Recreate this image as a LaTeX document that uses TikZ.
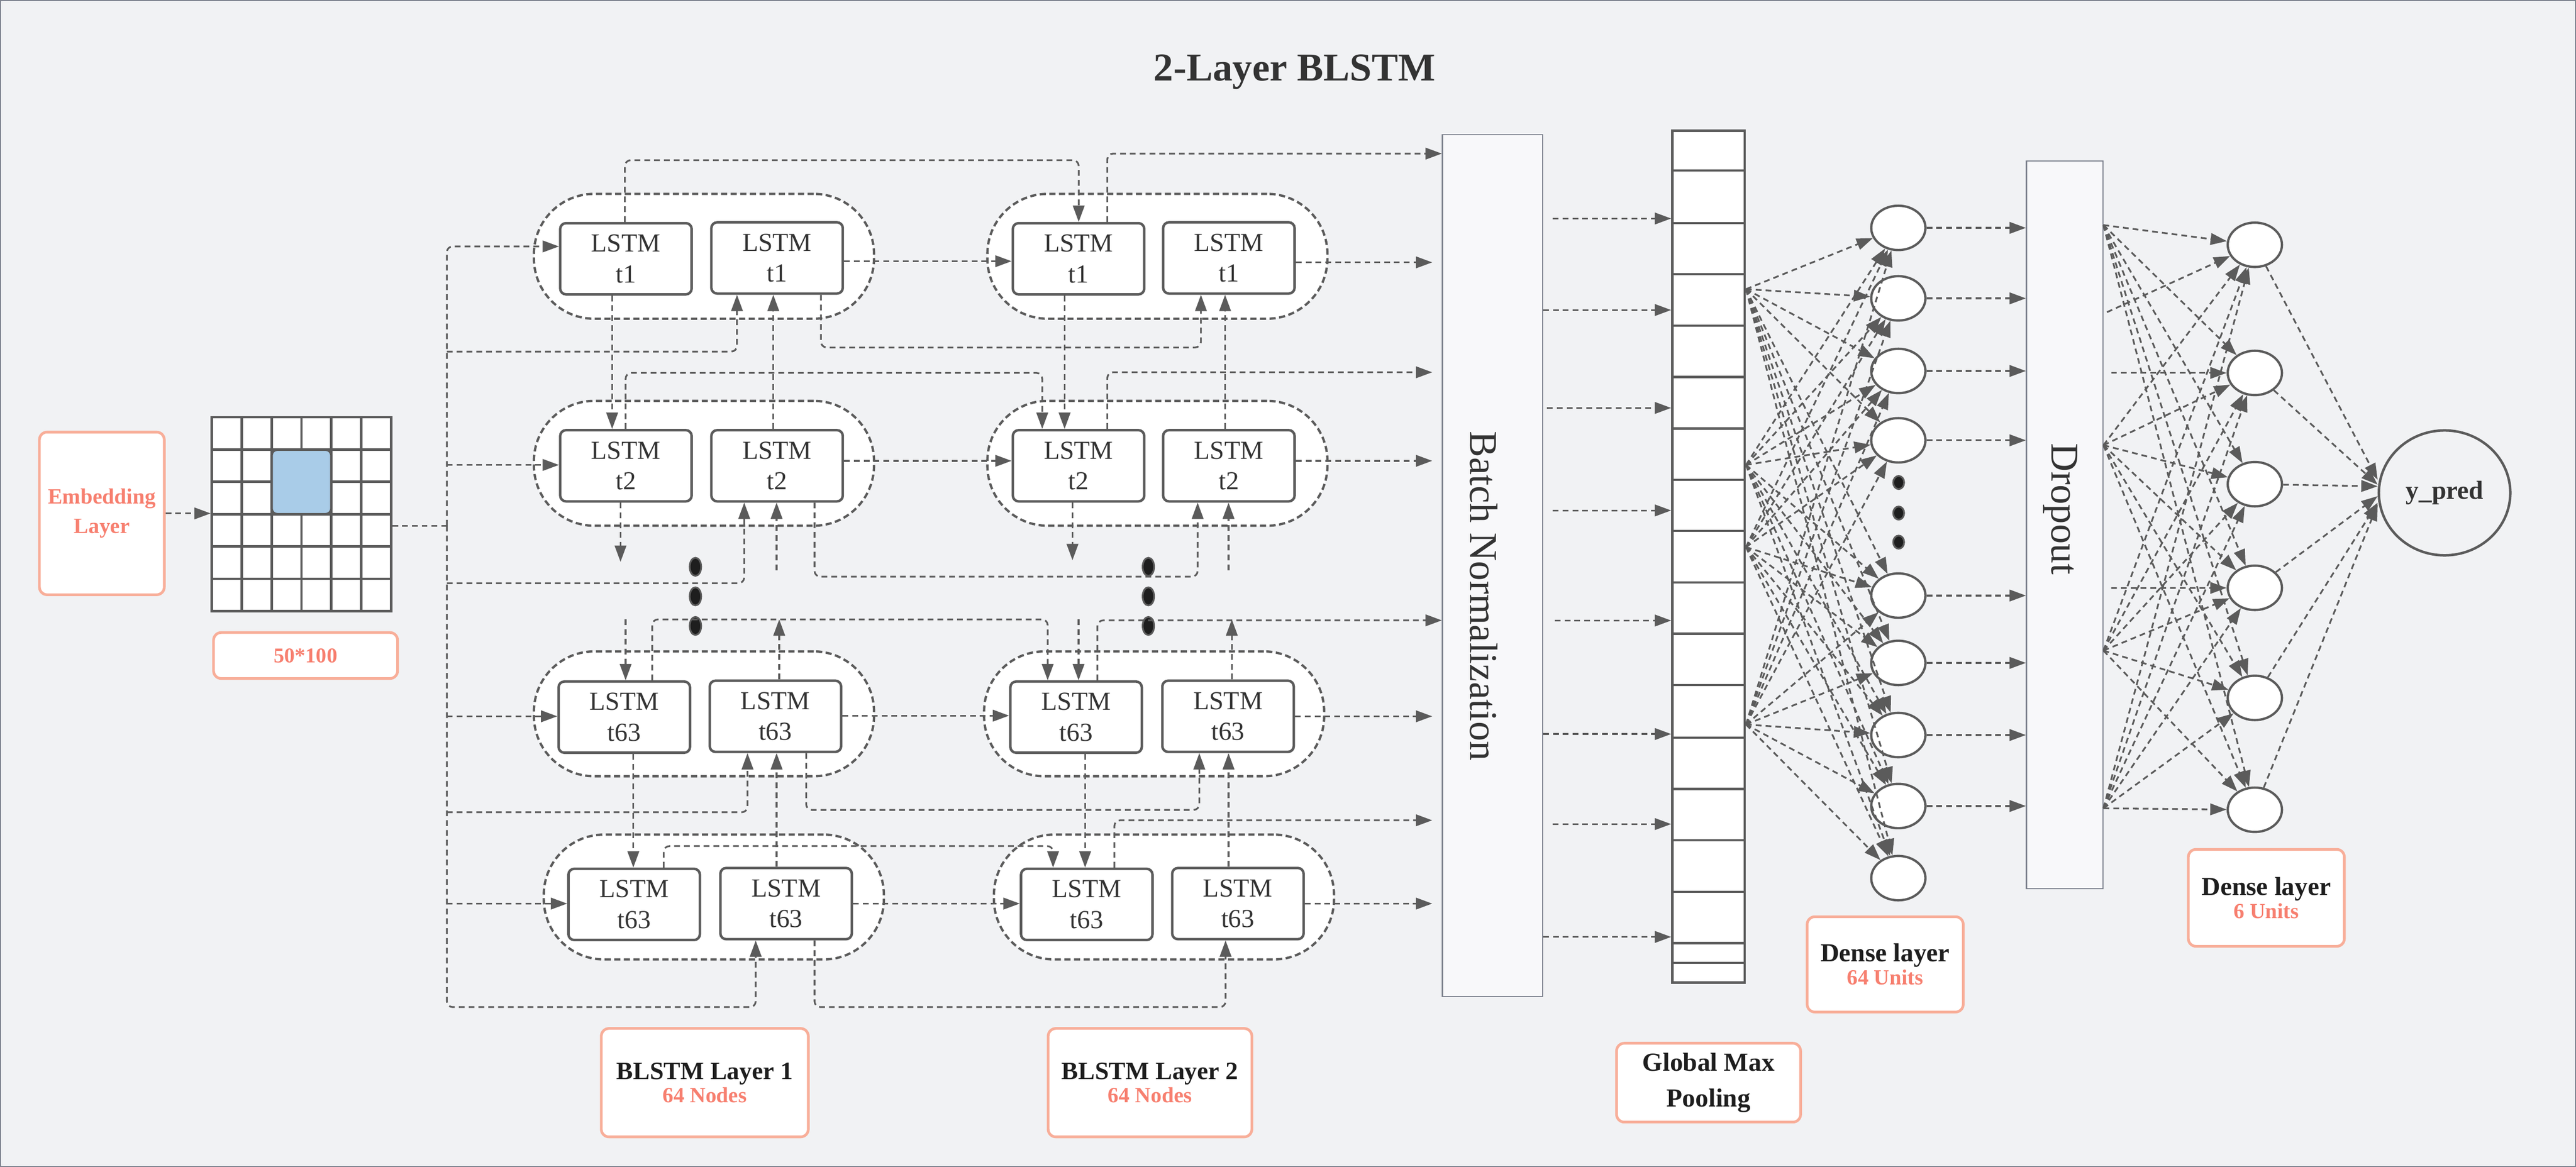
\documentclass[tikz,border=0pt]{standalone}
\usepackage{fontspec}
\setmainfont{Liberation Serif}
\usetikzlibrary{arrows.meta,shapes.geometric,calc}
\definecolor{bgc}{HTML}{F1F2F4}
\definecolor{lnc}{HTML}{5B5B5B}
\definecolor{salb}{HTML}{F8AE99}
\definecolor{salt}{HTML}{F77F6F}
\definecolor{txc}{HTML}{333333}
\definecolor{blk}{HTML}{1E1E1E}
\definecolor{bluc}{HTML}{A9CCE8}
\definecolor{frc}{HTML}{7D828E}
\begin{document}
\begin{tikzpicture}[x=0.03cm,y=-0.03cm,
 conn/.style={draw=lnc,line width=0.9pt,dash pattern=on 3pt off 2.1pt,rounded corners=3pt},
 arr/.style={conn,-{Triangle[length=8.5pt,width=6pt]}},
 lstm/.style={draw=lnc,fill=white,line width=1.3pt,rounded corners=3pt,minimum width=2.4cm,minimum height=1.3cm,inner sep=0pt,align=center,text=txc,font=\fontsize{13.5}{16}\selectfont},
 pill/.style={draw=lnc,fill=white,line width=1.2pt,dash pattern=on 3.2pt off 1.8pt,rounded corners=1.1cm,minimum width=6.21cm,minimum height=2.28cm,inner sep=0pt},
 salbox/.style={draw=salb,fill=white,line width=1.4pt,rounded corners=4pt,inner sep=0pt,align=center},
 neuron/.style={ellipse,draw=lnc,fill=white,line width=1.2pt,minimum width=0.99cm,minimum height=0.81cm,inner sep=0pt},
 dotn/.style={ellipse,draw=lnc,fill=blk,line width=0.9pt,inner sep=0pt},
 tallbox/.style={draw=frc,fill=bgc!50!white,line width=0.6pt,inner sep=0pt},
]
\fill[bgc] (0,0) rectangle (1568,710.3);
\draw[frc,line width=0.5pt] (0.3,0.3) rectangle (1567.7,710);
\useasboundingbox (0,0) rectangle (1568,710.3);

% title
\node[anchor=base,font=\bfseries\fontsize{20.5}{24}\selectfont,text=txc] (title) at (788,49) {2-Layer BLSTM};

% embedding
\node[salbox,minimum width=2.28cm,minimum height=2.97cm,text=salt,font=\bfseries\fontsize{11.3}{15.4}\selectfont] (emb) at (62,312.5) {Embedding\\Layer};
\node[draw=lnc,fill=white,line width=1.3pt,minimum width=3.27cm,minimum height=3.54cm,inner sep=0pt] (grid) at (183.5,313) {};
\foreach \gx in {147.2,165.3,183.5,201.7,219.8} \draw[lnc,line width=1.3pt] (grid.north -| \gx,0) -- (grid.south -| \gx,0);
\foreach \gy in {273.7,293.3,313,332.7,352.3} \draw[lnc,line width=1.3pt] (grid.west |- 0,\gy) -- (grid.east |- 0,\gy);
\node[draw=lnc,fill=bluc,line width=1.3pt,rounded corners=3pt,minimum width=1.092cm,minimum height=1.18cm,inner sep=0pt] (hl) at (183.5,293.35) {};
\node[salbox,minimum width=3.36cm,minimum height=0.84cm,text=salt,font=\bfseries\fontsize{11}{13}\selectfont] (dim) at (186,399) {50*100};
\draw[arr] (emb.east) -- (grid.west |- emb.east);

% pills
\node[pill] (P1) at (428.5,156) {};
\node[pill] (P2) at (428.5,282) {};
\node[pill] (P3) at (428.5,434.5) {};
\node[pill] (P4) at (434.5,546) {};
\node[pill] (Q1) at (704.5,156) {};
\node[pill] (Q2) at (704.5,282) {};
\node[pill] (Q3) at (702.5,434.5) {};
\node[pill] (Q4) at (708.5,546) {};

% LSTM boxes
\node[lstm] (A1L) at (381,157.5) {LSTM\\t1};
\node[lstm] (A1R) at (473,157) {LSTM\\t1};
\node[lstm] (A2L) at (381,283.5) {LSTM\\t2};
\node[lstm] (A2R) at (473,283.5) {LSTM\\t2};
\node[lstm] (A3L) at (380,436.5) {LSTM\\t63};
\node[lstm] (A3R) at (472,436) {LSTM\\t63};
\node[lstm] (A4L) at (386,550.5) {LSTM\\t63};
\node[lstm] (A4R) at (478.5,550) {LSTM\\t63};
\node[lstm] (B1L) at (656.5,157.5) {LSTM\\t1};
\node[lstm] (B1R) at (748,157) {LSTM\\t1};
\node[lstm] (B2L) at (656.5,283.5) {LSTM\\t2};
\node[lstm] (B2R) at (748,283.5) {LSTM\\t2};
\node[lstm] (B3L) at (655,436.5) {LSTM\\t63};
\node[lstm] (B3R) at (747.5,436) {LSTM\\t63};
\node[lstm] (B4L) at (661.5,550.5) {LSTM\\t63};
\node[lstm] (B4R) at (753.5,550) {LSTM\\t63};

% dots
\foreach \i/\yy in {1/345,2/363,3/381} {
  \node[dotn,minimum width=0.21cm,minimum height=0.33cm] (dl\i) at (423.3,\yy) {};
  \node[dotn,minimum width=0.21cm,minimum height=0.33cm] (dr\i) at (699,\yy) {};
}

% layer 1 bus
\coordinate (bus) at (272,320);
\draw[conn] (grid.east |- bus) -- (bus);
\draw[arr] (bus) |- (A1L.west |- 0,150);
\draw[arr] (bus) |- (460,613) -- (A4R.south -| 460,0);
\draw[arr] (bus |- 0,283) -- (A2L.west |- 0,283);
\draw[arr] (bus |- 0,436) -- (A3L.west |- 0,436);
\draw[arr] (bus |- 0,550) -- (A4L.west |- 0,550);
\draw[arr] (bus |- 0,214) -| (A1R.south -| 448.6,0);
\draw[arr] (bus |- 0,355) -| (A2R.south -| 453,0);
\draw[arr] (bus |- 0,494.4) -| (A3R.south -| 455,0);

% layer 1 internal
\draw[arr] (A1L.south -| 372.6,0) -- (A2L.north -| 372.6,0);
\coordinate (A2Lx) at (377.7,342);
\draw[arr] (A2L.south -| 377.7,0) -- (A2Lx);
\coordinate (A3Lx) at (380.8,377);
\draw[arr] (A3Lx) -- (A3L.north -| 380.8,0);
\draw[arr] (A3L.south -| 385.5,0) -- (A4L.north -| 385.5,0);
\draw[arr] (A2R.north -| 470.7,0) -- (A1R.south -| 470.7,0);
\coordinate (A2Rx) at (472.7,347);
\draw[arr] (A2Rx) -- (A2R.south -| 472.7,0);
\coordinate (A3Rx) at (474.3,377);
\draw[arr] (A3R.north -| 474.3,0) -- (A3Rx);
\draw[arr] (A4R.north -| 472.7,0) -- (A3R.south -| 472.7,0);

% layer 1 -> layer 2
\draw[arr] (A1R.east |- 0,159) -- (B1L.west |- 0,159);
\draw[arr] (A1L.north -| 380.4,0) |- (656.6,97.5) -- (B1L.north -| 656.6,0);
\draw[arr] (A1R.south -| 499.7,0) |- (731,211.5) -- (B1R.south -| 731,0);
\draw[arr] (A2L.north -| 380.8,0) |- (634.4,227) -- (B2L.north -| 634.4,0);
\draw[arr] (A2R.east |- 0,280.5) -- (B2L.west |- 0,280.5);
\draw[arr] (A2R.south -| 495.8,0) |- (729,351) -- (B2R.south -| 729,0);
\draw[arr] (A3L.north -| 397,0) |- (637.7,377) -- (B3L.north -| 637.7,0);
\draw[arr] (A3R.east |- 0,435.6) -- (B3L.west |- 0,435.6);
\draw[arr] (A3R.south -| 490.7,0) |- (730,493) -- (B3R.south -| 730,0);
\draw[arr] (A4L.north -| 404,0) |- (641,515) -- (B4L.north -| 641,0);
\draw[arr] (A4R.east |- 0,550) -- (B4L.west |- 0,550);
\draw[arr] (A4R.south -| 495.8,0) |- (746,613) -- (B4R.south -| 746,0);

% layer 2 internal
\draw[arr] (B1L.south -| 648,0) -- (B2L.north -| 648,0);
\coordinate (B2Lx) at (652.8,341);
\draw[arr] (B2L.south -| 652.8,0) -- (B2Lx);
\coordinate (B3Lx) at (656.5,377);
\draw[arr] (B3Lx) -- (B3L.north -| 656.5,0);
\draw[arr] (B3L.south -| 660.5,0) -- (B4L.north -| 660.5,0);
\draw[arr] (B2R.north -| 745.7,0) -- (B1R.south -| 745.7,0);
\coordinate (B2Rx) at (747.8,347);
\draw[arr] (B2Rx) -- (B2R.south -| 747.8,0);
\coordinate (B3Rx) at (749.8,377);
\draw[arr] (B3R.north -| 749.8,0) -- (B3Rx);
\draw[arr] (B4R.north -| 747.8,0) -- (B3R.south -| 747.8,0);

% batch normalization
\node[tallbox,minimum width=1.83cm,minimum height=15.735cm] (BN) at (908.5,344.25) {};
\node[rotate=-90,anchor=base,font=\fontsize{20.5}{24}\selectfont,text=txc] (BNt) at (895,362.7) {Batch Normalization};

% layer 2 -> BN
\draw[arr] (B1L.north -| 674,0) |- (BN.west |- 0,93.5);
\draw[arr,shorten >=5pt] (B1R.east |- 0,159.7) -- (BN.west |- 0,159.7);
\draw[arr,shorten >=5pt] (B2L.north -| 674,0) |- (BN.west |- 0,226.6);
\draw[arr,shorten >=5pt] (B2R.east |- 0,280.5) -- (BN.west |- 0,280.5);
\draw[arr] (B3L.north -| 668,0) |- (BN.west |- 0,377.6);
\draw[arr,shorten >=5pt] (B3R.east |- 0,436) -- (BN.west |- 0,436);
\draw[arr,shorten >=5pt] (B4L.north -| 678.3,0) |- (BN.west |- 0,499.3);
\draw[arr,shorten >=5pt] (B4R.east |- 0,550) -- (BN.west |- 0,550);

% global max pooling column
\node[draw=lnc,fill=white,line width=1.3pt,minimum width=1.32cm,minimum height=15.555cm,inner sep=0pt] (GMP) at (1040,338.75) {};
\foreach \gy in {103.8,135.8,166.9,198.3,229.5,260.8,292,323.2,354.5,385.8,417,449,480.2,511.5,542.8,574,586}
  \draw[lnc,line width=1.2pt] (GMP.west |- 0,\gy) -- (GMP.east |- 0,\gy);
\foreach \yy/\s in {133/5,188.7/0,248.3/2,310.7/5,377.7/6,446.8/0,501.6/5,570.3/0}
  \draw[arr,shorten <=\s pt] (BN.east |- 0,\yy) -- (GMP.west |- 0,\yy);

% dense 64
\foreach \i/\yy in {1/138.7,2/181.6,3/225.8,4/268,5/362.5,6/403.5,7/447.4,8/490.6,9/534.5}
  \node[neuron] (c\i) at (1155.5,\yy) {};
\foreach \i/\yy in {1/293.7,2/312.3,3/330}
  \node[dotn,minimum width=0.2cm,minimum height=0.24cm] (cd\i) at (1155.7,\yy) {};
\foreach \s in {176,283,333,441}
  \foreach \t in {1,...,9}
    \draw[arr] (GMP.east |- 0,\s) -- (c\t);

% dropout
\node[tallbox,minimum width=1.395cm,minimum height=13.29cm] (DO) at (1256.75,319.5) {};
\node[rotate=-90,anchor=base,font=\fontsize{20.5}{24}\selectfont,text=txc] (DOt) at (1249,309.7) {Dropout};
\foreach \i in {1,...,8}
  \draw[arr] (c\i) -- (DO.west |- c\i);

% dense 6
\foreach \i/\yy in {1/149,2/227,3/294.7,4/357.8,5/424.8,6/492.9}
  \node[neuron] (e\i) at (1372.5,\yy) {};
\foreach \s in {137,271,396,492}
  \foreach \t in {1,...,6}
    \draw[arr] (DO.east |- 0,\s) -- (e\t);
\draw[arr,shorten <=2pt] (DO.east |- 0,191) -- (e1);
\draw[arr,shorten <=4pt] (DO.east |- 0,227) -- (e2);
\draw[arr,shorten <=4pt] (DO.east |- 0,358) -- (e4);

% output
\node[ellipse,draw=lnc,fill=bgc,line width=1.3pt,minimum width=2.4cm,minimum height=2.28cm,inner sep=0pt,font=\bfseries\fontsize{13.5}{16}\selectfont,text=txc] (ypred) at (1488,300) {y\_pred};
\foreach \i/\o in {1/-8,2/-5,3/-4,4/2,5/6,6/7}
  \draw[arr] (e\i) -- ($(ypred.west)+(0,\o)$);

% labels
\node[salbox,minimum width=3.78cm,minimum height=1.98cm] (lab1) at (429,659)
  {\fontsize{13}{17}\selectfont\bfseries\color{blk}BLSTM Layer 1\\\fontsize{11.3}{17}\selectfont\bfseries\color{salt}64 Nodes};
\node[salbox,minimum width=3.72cm,minimum height=1.98cm] (lab2) at (700,659)
  {\fontsize{13}{17}\selectfont\bfseries\color{blk}BLSTM Layer 2\\\fontsize{11.3}{17}\selectfont\bfseries\color{salt}64 Nodes};
\node[salbox,minimum width=3.36cm,minimum height=1.44cm,text=blk,font=\bfseries\fontsize{13.5}{18.7}\selectfont] (lab3) at (1040,659)
  {Global Max\\Pooling};
\node[salbox,minimum width=2.85cm,minimum height=1.74cm] (lab4) at (1147.5,587)
  {\fontsize{13.5}{17}\selectfont\bfseries\color{blk}Dense layer\\\fontsize{11.2}{17}\selectfont\bfseries\color{salt}64 Units};
\node[salbox,minimum width=2.85cm,minimum height=1.77cm] (lab5) at (1379.5,546.5)
  {\fontsize{13.5}{17}\selectfont\bfseries\color{blk}Dense layer\\\fontsize{11.2}{17}\selectfont\bfseries\color{salt}6 Units};
\end{tikzpicture}
\end{document}
